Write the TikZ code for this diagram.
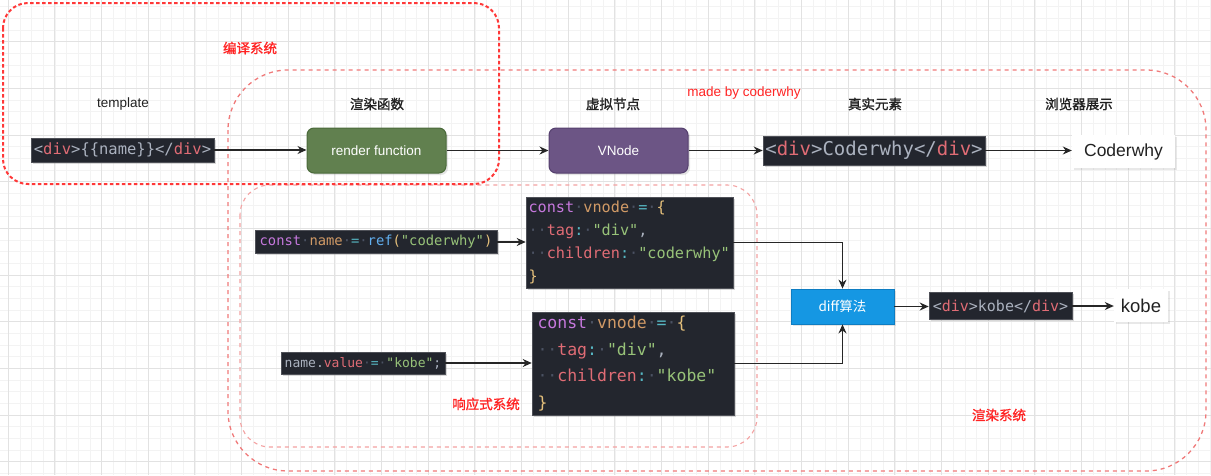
\documentclass[tikz,border=0pt]{standalone}
\usepackage{fontspec}
\setmainfont{Liberation Sans}
\newfontfamily\cjk{Noto Sans CJK SC}[FakeBold=1.3]
\newfontfamily\cjkplain{Noto Sans CJK SC}
\newfontfamily\codefont{DejaVu Sans Mono}
\usetikzlibrary{arrows.meta,shadows}
\definecolor{cbg}{HTML}{23262E}
\definecolor{cfg}{HTML}{ABB2BF}
\definecolor{cred}{HTML}{E06C75}
\definecolor{cpur}{HTML}{C678DD}
\definecolor{corg}{HTML}{D19A66}
\definecolor{ccyan}{HTML}{56B6C2}
\definecolor{cblue}{HTML}{61AFEF}
\definecolor{cyel}{HTML}{E5C07B}
\definecolor{cgrn}{HTML}{98C379}
\definecolor{cdot}{HTML}{4B5263}
\definecolor{gridminor}{HTML}{F3F3F3}
\definecolor{gridmajor}{HTML}{E2E2E2}
\definecolor{redstrong}{HTML}{FF3838}
\definecolor{redsoft}{HTML}{F07A7A}
\definecolor{redsofter}{HTML}{F4A2A2}
\definecolor{rfill}{HTML}{61804F}
\definecolor{rdraw}{HTML}{4A6A3A}
\definecolor{vfill}{HTML}{6C5585}
\definecolor{vdraw}{HTML}{55406E}
\definecolor{dfill}{HTML}{1597E3}
\definecolor{ddraw}{HTML}{0E7DC2}
\definecolor{lbltext}{HTML}{222222}
\definecolor{redlbltext}{HTML}{FF2424}
\newcommand\Kr[1]{\textcolor{cred}{#1}}
\newcommand\Kp[1]{\textcolor{cpur}{#1}}
\newcommand\Ko[1]{\textcolor{corg}{#1}}
\newcommand\Kc[1]{\textcolor{ccyan}{#1}}
\newcommand\Kb[1]{\textcolor{cblue}{#1}}
\newcommand\Ky[1]{\textcolor{cyel}{#1}}
\newcommand\Kg[1]{\textcolor{cgrn}{#1}}
\newcommand\Kd{\textcolor{cdot}{·}}
\tikzset{
  lbl/.style={font=\cjk\fontsize{13.5}{16}\selectfont, text=lbltext},
  latinlbl/.style={font=\fontsize{13.5}{16}\selectfont, text=lbltext},
  redlbl/.style={font=\cjk\fontsize{13.5}{16}\selectfont, text=redlbltext},
  codebox/.style={fill=cbg, draw=cbg!80!white, line width=0.6pt, inner sep=0pt, text=cfg, align=left,
    drop shadow={opacity=0.3, shadow xshift=1.5pt, shadow yshift=-1.5pt}},
  whitebox/.style={fill=white, draw=none, inner sep=0pt, text=lbltext,
    drop shadow={opacity=0.18, shadow xshift=2pt, shadow yshift=-2pt}},
  rrbox/.style={rounded corners=7pt, line width=1pt, inner sep=0pt, text=white,
    font=\fontsize{13.5}{16}\selectfont, minimum width=139pt, minimum height=45pt,
    drop shadow={opacity=0.2, shadow xshift=2pt, shadow yshift=-2pt}},
  arr/.style={draw=black!85, line width=1.2pt, -{Stealth[length=9pt,width=8pt]}},
  compsys/.style={draw=redstrong, line width=2pt, dash pattern=on 3.5pt off 2.5pt, rounded corners=25pt},
  rendsys/.style={draw=redsoft, line width=1.3pt, dash pattern=on 4pt off 4pt, rounded corners=60pt},
  reactsys/.style={draw=redsofter, line width=1.1pt, dash pattern=on 4pt off 4pt, rounded corners=30pt},
}
\begin{document}
\begin{tikzpicture}[x=1pt,y=-1pt]
\useasboundingbox (0,0) rectangle (1211,475);
\fill[white] (0,0) rectangle (1211,475);
% grid
\foreach \i in {0,...,104} {
  \draw[gridminor, line width=0.6pt] ({-3.5+\i*11.667},0) -- ({-3.5+\i*11.667},475);
}
\foreach \i in {0,...,41} {
  \draw[gridminor, line width=0.6pt] (0,{6.6+\i*11.667}) -- (1211,{6.6+\i*11.667});
}
\foreach \i in {0,...,26} {
  \draw[gridmajor, line width=0.8pt] ({8.2+\i*46.667},0) -- ({8.2+\i*46.667},475);
}
\foreach \i in {0,...,10} {
  \draw[gridmajor, line width=0.8pt] (0,{-5.1+\i*46.667}) -- (1211,{-5.1+\i*46.667});
}
% system containers
\draw[rendsys] (228,70) rectangle (1206,471);
\draw[reactsys] (240,185) rectangle (757,447);
\draw[compsys] (3,3) rectangle (499,184);
% labels
\node[redlbl] (lcomp) at (250,48) {编译系统};
\node[redlbl, font=\fontsize{13.5}{16}\selectfont] (lmade) at (744,93) {made by coderwhy};
\node[redlbl] (lreact) at (486,404) {响应式系统};
\node[redlbl] (lrend) at (999,415) {渲染系统};
\node[latinlbl] (ltmpl) at (123,104) {template};
\node[lbl] (lrf) at (377,104) {渲染函数};
\node[lbl] (lvn) at (613,104) {虚拟节点};
\node[lbl] (lreal) at (875,104) {真实元素};
\node[lbl] (lbrow) at (1079,104) {浏览器展示};
% top row
\node[codebox, minimum width=183pt, minimum height=24pt, font=\codefont\fontsize{15.5}{18}\selectfont]
  (tmpl) at (122.5,150) {<\Kr{div}>\{\{name\}\}</\Kr{div}>};
\node[rrbox, fill=rfill, draw=rdraw] (render) at (376.5,150.5) {render function};
\node[rrbox, fill=vfill, draw=vdraw] (vnode) at (618.5,150.5) {VNode};
\node[codebox, minimum width=222pt, minimum height=29pt, font=\codefont\fontsize{19}{22}\selectfont]
  (real) at (874,150.5) {<\Kr{div}>Coderwhy</\Kr{div}>};
\node[whitebox, minimum width=103pt, minimum height=33pt, font=\fontsize{17.5}{20}\selectfont]
  (cw) at (1123.5,151.5) {Coderwhy};
\draw[arr] (tmpl.east) -- (tmpl.east -| render.west);
\draw[arr] (render.east) -- (vnode.west);
\draw[arr] (vnode.east) -- (vnode.east -| real.west);
\draw[arr] (real.east) -- (real.east -| cw.west);
% lower part
\node[codebox, minimum width=242pt, minimum height=23pt, font=\codefont\fontsize{13.8}{16}\selectfont]
  (nref) at (376,242) {\Kp{const}\Kd\Ko{name}\Kd\Kc{=}\Kd\Kb{ref}\Ky{(}\Kg{"coderwhy"}\Ky{)}};
\node[codebox, minimum width=207pt, minimum height=91pt, text width=202pt, inner xsep=2.5pt,
  font=\codefont\fontsize{15.2}{23.3}\selectfont]
  (vn1) at (629.5,242.5) {\Kp{const}\Kd\Ko{vnode}\Kd\Kc{=}\Kd\Ky{\{}\\
  \Kd\Kd\Kr{tag}\Kc{:}\Kd\Kg{"div"},\\
  \Kd\Kd\Kr{children}\Kc{:}\Kd\Kg{"coderwhy"}\\
  \Ky{\}}};
\node[codebox, minimum width=164pt, minimum height=22pt, font=\codefont\fontsize{13}{15}\selectfont]
  (nval) at (363,363) {name.\Kr{value}\Kd\Kc{=}\Kd\Kg{"kobe"};};
\node[codebox, minimum width=202pt, minimum height=103pt, text width=191pt, inner xsep=5.5pt,
  font=\codefont\fontsize{16.5}{26.4}\selectfont]
  (vn2) at (633,363.5) {\Kp{const}\Kd\Ko{vnode}\Kd\Kc{=}\Kd\Ky{\{}\\
  \Kd\Kd\Kr{tag}\Kc{:}\Kd\Kg{"div"},\\
  \Kd\Kd\Kr{children}\Kc{:}\Kd\Kg{"kobe"}\\
  \Ky{\}}};
\node[fill=dfill, draw=ddraw, line width=0.8pt, minimum width=103pt, minimum height=35pt, inner sep=0pt,
  text=white, font=\cjkplain\fontsize{13.5}{16}\selectfont,
  drop shadow={opacity=0.2, shadow xshift=2pt, shadow yshift=-2pt}]
  (diff) at (842.5,306.5) {diff算法};
\node[codebox, minimum width=143pt, minimum height=27pt, font=\codefont\fontsize{15}{18}\selectfont]
  (kcode) at (1000.5,306) {<\Kr{div}>kobe</\Kr{div}>};
\node[whitebox, minimum width=54pt, minimum height=33pt, font=\fontsize{18.5}{21}\selectfont]
  (kobe) at (1141,305.5) {kobe};
\draw[arr] (nref.east) -- (nref.east -| vn1.west);
\draw[arr] (nval.east) -- (nval.east -| vn2.west);
\draw[arr] (vn1.east) -| (diff.north);
\draw[arr] (vn2.east) -| (diff.south);
\draw[arr] (diff.east) -- (diff.east -| kcode.west);
\draw[arr] (kcode.east) -- (kcode.east -| kobe.west);
\end{tikzpicture}
\end{document}
